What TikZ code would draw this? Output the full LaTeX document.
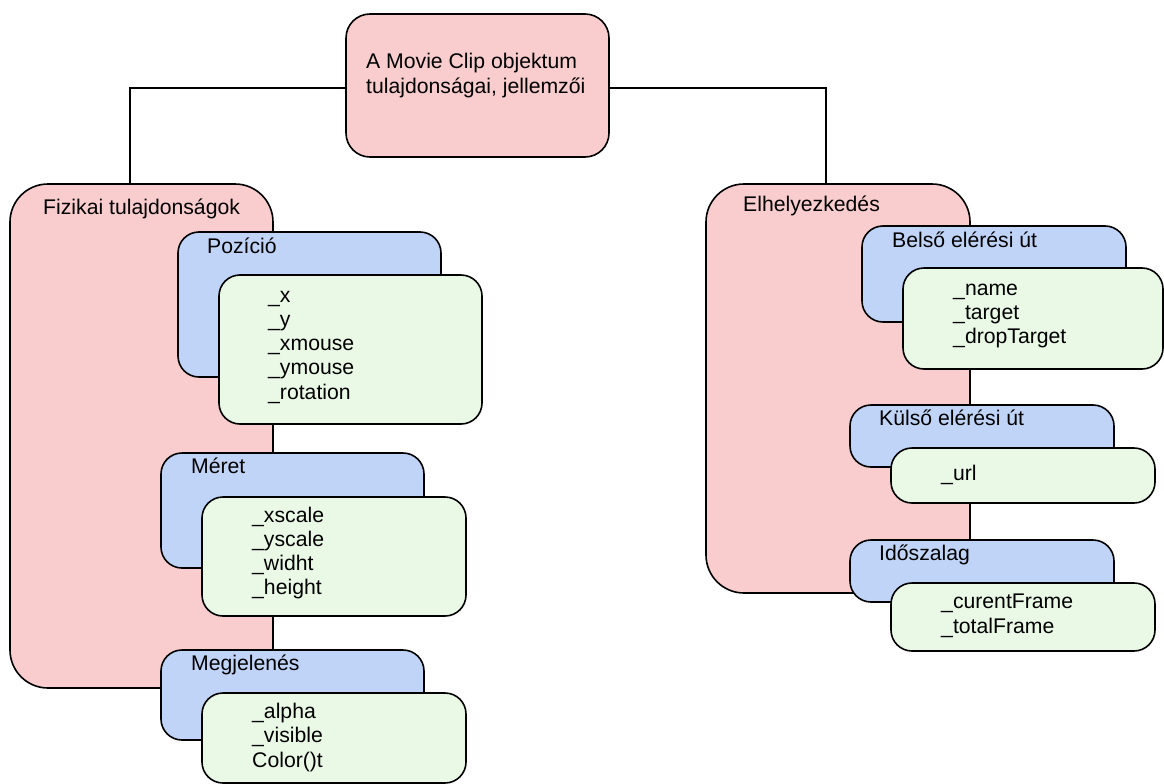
\documentclass[tikz,border=0pt]{standalone}
\usepackage{fontspec}
\setmainfont{Liberation Sans}
\definecolor{boxpink}{RGB}{249,204,206}
\definecolor{boxblue}{RGB}{192,212,248}
\definecolor{boxgreen}{RGB}{234,249,230}
\tikzset{
  panel/.style={draw=black, line width=1.6pt, inner sep=0pt, outer sep=0pt, anchor=north west},
  bigpanel/.style={panel, fill=boxpink, rounded corners=38pt},
  toppanel/.style={panel, fill=boxpink, rounded corners=24pt},
  grouppanel/.style={panel, fill=boxblue, rounded corners=21pt},
  itempanel/.style={panel, fill=boxgreen, rounded corners=21pt},
  txt/.style={anchor=base west, inner sep=0pt, font=\fontsize{21.2}{24}\selectfont},
  link/.style={draw=black, line width=1.6pt}
}
% box from corner (x1,y1) to (x2,y2), in pixel units with y growing downwards
\newcommand{\panelbox}[6]{%
  \node[#1, minimum width={(#5-#3)*1pt}, minimum height={(#6-#4)*1pt}] (#2) at (#3,#4) {};}
\begin{document}
\begin{tikzpicture}[x=1pt, y=-1pt]
\useasboundingbox (0,0) rectangle (1164,784);

% root
\panelbox{toppanel}{root}{346}{14}{609}{157}
\node[txt] (roota) at (366,68) {A Movie Clip objektum};
\node[txt] (rootb) at (366,93) {tulajdonságai, jellemzői};

% main branches
\panelbox{bigpanel}{fiz}{10}{184}{273}{688}
\node[txt] (fizt) at (43,214) {Fizikai tulajdonságok};
\panelbox{bigpanel}{elh}{706}{184}{970}{593}
\node[txt] (elht) at (743,211) {Elhelyezkedés};

% connectors from the root
\draw[link] ([yshift=-2.5pt]root.west) -| ([xshift=-11.5pt]fiz.north);
\draw[link] ([yshift=-2.5pt]root.east) -| ([xshift=-12pt]elh.north);

% physical properties
\panelbox{grouppanel}{pos}{178}{232}{441}{377}
\node[txt] (post) at (207,253) {Pozíció};
\panelbox{itempanel}{posg}{219}{275}{482}{424}
\foreach \t [count=\i] in {\_x,\_y,\_xmouse,\_ymouse,\_rotation}
  \node[txt] (posi\i) at (268,{302+24.3*(\i-1)}) {\t};

\panelbox{grouppanel}{meret}{161}{453}{424}{568}
\node[txt] (merett) at (191,473) {Méret};
\panelbox{itempanel}{meretg}{202}{497}{466}{616}
\foreach \t [count=\i] in {\_xscale,\_yscale,\_widht,\_height}
  \node[txt] (meri\i) at (252,{522+24.3*(\i-1)}) {\t};

\panelbox{grouppanel}{megj}{161}{650}{424}{740}
\node[txt] (megjt) at (191,670) {Megjelenés};
\panelbox{itempanel}{megjg}{202}{693}{466}{783}
\foreach \t [count=\i] in {\_alpha,\_visible,Color()t}
  \node[txt] (megi\i) at (252,{718+24.5*(\i-1)}) {\t};

% placement
\panelbox{grouppanel}{belso}{862}{226}{1126}{322}
\node[txt] (belsot) at (892,247) {Belső elérési út};
\panelbox{itempanel}{belsog}{903}{268}{1163}{369}
\foreach \t [count=\i] in {\_name,\_target,\_dropTarget}
  \node[txt] (beli\i) at (953,{295+24*(\i-1)}) {\t};

\panelbox{grouppanel}{kulso}{850}{405}{1114}{467}
\node[txt] (kulsot) at (879,425) {Külső elérési út};
\panelbox{itempanel}{kulsog}{891}{448}{1155}{503}
\node[txt] (kuli1) at (941,480) {\_url};

\panelbox{grouppanel}{ido}{850}{540}{1114}{602}
\node[txt] (idot) at (879,560) {Időszalag};
\panelbox{itempanel}{idog}{891}{583}{1155}{651}
\foreach \t [count=\i] in {\_curentFrame,\_totalFrame}
  \node[txt] (idoi\i) at (941,{608+25*(\i-1)}) {\t};
\end{tikzpicture}
\end{document}
